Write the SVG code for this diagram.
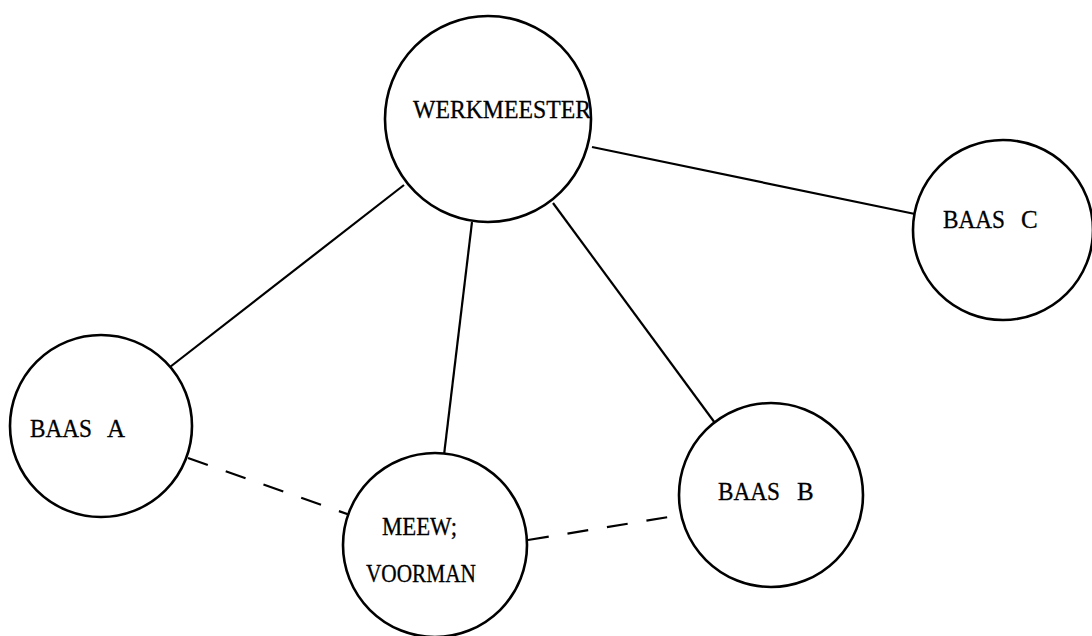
<svg xmlns="http://www.w3.org/2000/svg" width="1092" height="636" viewBox="0 0 1092 636">
  <style>
    .node { fill: #ffffff; stroke: #000000; stroke-width: 2.6; }
    .link { stroke: #000000; stroke-width: 2.2; fill: none; }
    .dash { stroke-dasharray: 21 19; }
    .label { font-family: "Liberation Serif", "DejaVu Serif", serif; font-size: 25px; fill: #000000; stroke: #000000; stroke-width: 0.3; }
  </style>
  <rect width="1092" height="636" fill="#ffffff"/>

  <!-- connectors -->
  <g id="connectors">
    <line class="link" x1="592" y1="147" x2="915" y2="214"/>
    <line class="link" x1="404" y1="185" x2="170" y2="367"/>
    <line class="link" x1="472" y1="222" x2="444" y2="455"/>
    <line class="link" x1="553" y1="203" x2="715" y2="423"/>
    <line class="link dash" x1="188" y1="458" x2="350" y2="515"/>
    <line class="link dash" x1="528" y1="540" x2="681" y2="515"/>
  </g>

  <g id="werkmeester">
    <circle class="node" cx="488" cy="119" r="103"/>
    <text class="label" x="413" y="118" textLength="178" lengthAdjust="spacingAndGlyphs">WERKMEESTER</text>
  </g>

  <g id="baas-c">
    <circle class="node" cx="1003" cy="230" r="90"/>
    <text class="label" x="943" y="228"><tspan textLength="62" lengthAdjust="spacingAndGlyphs">BAAS</tspan><tspan x="1021">C</tspan></text>
  </g>

  <g id="baas-a">
    <circle class="node" cx="101" cy="426" r="91"/>
    <text class="label" x="30" y="437"><tspan textLength="62" lengthAdjust="spacingAndGlyphs">BAAS</tspan><tspan x="107">A</tspan></text>
  </g>

  <g id="voorman">
    <circle class="node" cx="435" cy="545" r="92"/>
    <text class="label" x="382" y="535" textLength="75" lengthAdjust="spacingAndGlyphs">MEEW;</text>
    <text class="label" x="366" y="582" textLength="110" lengthAdjust="spacingAndGlyphs">VOORMAN</text>
  </g>

  <g id="baas-b">
    <circle class="node" cx="771" cy="495" r="92"/>
    <text class="label" x="718" y="500"><tspan textLength="62" lengthAdjust="spacingAndGlyphs">BAAS</tspan><tspan x="797">B</tspan></text>
  </g>
</svg>
